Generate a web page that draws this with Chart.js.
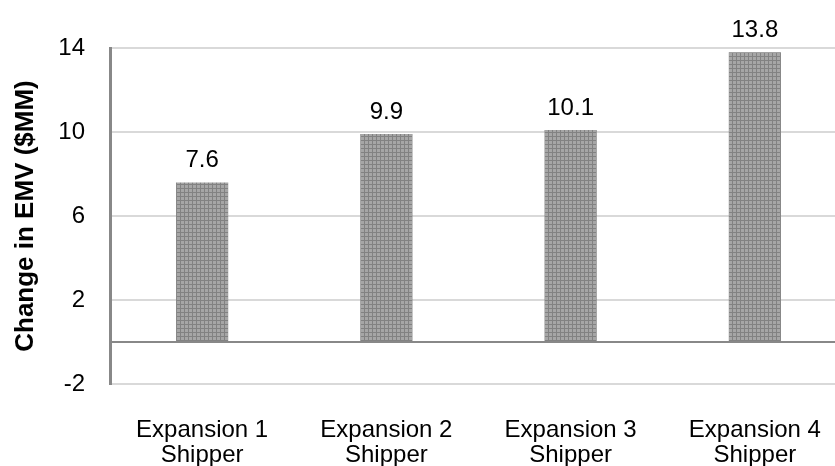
<!DOCTYPE html>
<html>
<head>
<meta charset="utf-8">
<script src="https://cdn.jsdelivr.net/npm/chart.js@4/dist/chart.umd.min.js"></script>
<style>
  html, body { margin: 0; padding: 0; background: #ffffff; overflow: hidden; }
  #wrap { width: 850px; height: 466px; }
</style>
</head>
<body>
<div id="wrap"><canvas id="chart" width="850" height="466"></canvas></div>
<script>
// Chart data
const categories = [['Expansion 1', 'Shipper'], ['Expansion 2', 'Shipper'], ['Expansion 3', 'Shipper'], ['Expansion 4', 'Shipper']];
const emvChange = [7.6, 9.9, 10.1, 13.8];
const yTicks = [-2, 2, 6, 10, 14];
const yTitle = 'Change in EMV ($MM)';

const FONT = '"Liberation Sans", Arial, sans-serif';

// Fine crosshatch fill for the bars
function makeHatch() {
  const c = document.createElement('canvas');
  c.width = 4; c.height = 4;
  const g = c.getContext('2d');
  g.fillStyle = '#a6a6a6';
  g.fillRect(0, 0, 4, 4);
  g.fillStyle = '#828282';
  g.fillRect(0, 0, 4, 1);
  g.fillRect(0, 0, 1, 4);
  return g.createPattern(c, 'repeat');
}
const ctx0 = document.getElementById('chart').getContext('2d');
const hatch = makeHatch();

// Darker baseline at zero
const zeroLine = {
  id: 'zeroLine',
  afterDatasetsDraw(chart) {
    const { ctx, chartArea, scales } = chart;
    const y = scales.y.getPixelForValue(0);
    ctx.save();
    ctx.strokeStyle = '#888888';
    ctx.lineWidth = 2;
    ctx.beginPath();
    ctx.moveTo(chartArea.left, y);
    ctx.lineTo(chartArea.right, y);
    ctx.stroke();
    ctx.restore();
  }
};

// Value labels above each bar
const valueLabels = {
  id: 'valueLabels',
  afterDatasetsDraw(chart) {
    const { ctx } = chart;
    const meta = chart.getDatasetMeta(0);
    ctx.save();
    ctx.font = '24px ' + FONT;
    ctx.fillStyle = '#000000';
    ctx.textAlign = 'center';
    ctx.textBaseline = 'alphabetic';
    meta.data.forEach((bar, i) => {
      ctx.fillText(emvChange[i].toFixed(1), bar.x, bar.y - 15);
    });
    ctx.restore();
  }
};

new Chart(ctx0, {
  type: 'bar',
  data: {
    labels: categories,
    datasets: [{
      data: emvChange,
      backgroundColor: hatch,
      borderWidth: 0,
      barPercentage: 0.283,
      categoryPercentage: 1.0
    }]
  },
  options: {
    responsive: false,
    animation: false,
    layout: { padding: { top: 48, right: 3, left: 0, bottom: 0 } },
    plugins: { legend: { display: false }, tooltip: { enabled: false } },
    scales: {
      x: {
        grid: { display: false },
        border: { display: false },
        ticks: {
          color: '#000000',
          font: { family: FONT, size: 24, lineHeight: 1.05 },
          padding: 26,
          maxRotation: 0,
          autoSkip: false
        },
        afterFit(scale) { scale.height = 82; }
      },
      y: {
        min: -2,
        max: 14,
        afterBuildTicks(scale) { scale.ticks = yTicks.map(v => ({ value: v })); },
        grid: { color: '#d9d9d9', lineWidth: 2, drawTicks: false },
        border: { display: true, color: '#888888', width: 3 },
        ticks: {
          color: '#000000',
          font: { family: FONT, size: 24 },
          padding: 25
        },
        title: {
          display: true,
          text: yTitle,
          color: '#000000',
          font: { family: FONT, size: 26, weight: 'bold' },
          padding: { top: 10, bottom: 0 }
        },
        afterFit(scale) { scale.width = 110; }
      }
    }
  },
  plugins: [zeroLine, valueLabels]
});
</script>
</body>
</html>
